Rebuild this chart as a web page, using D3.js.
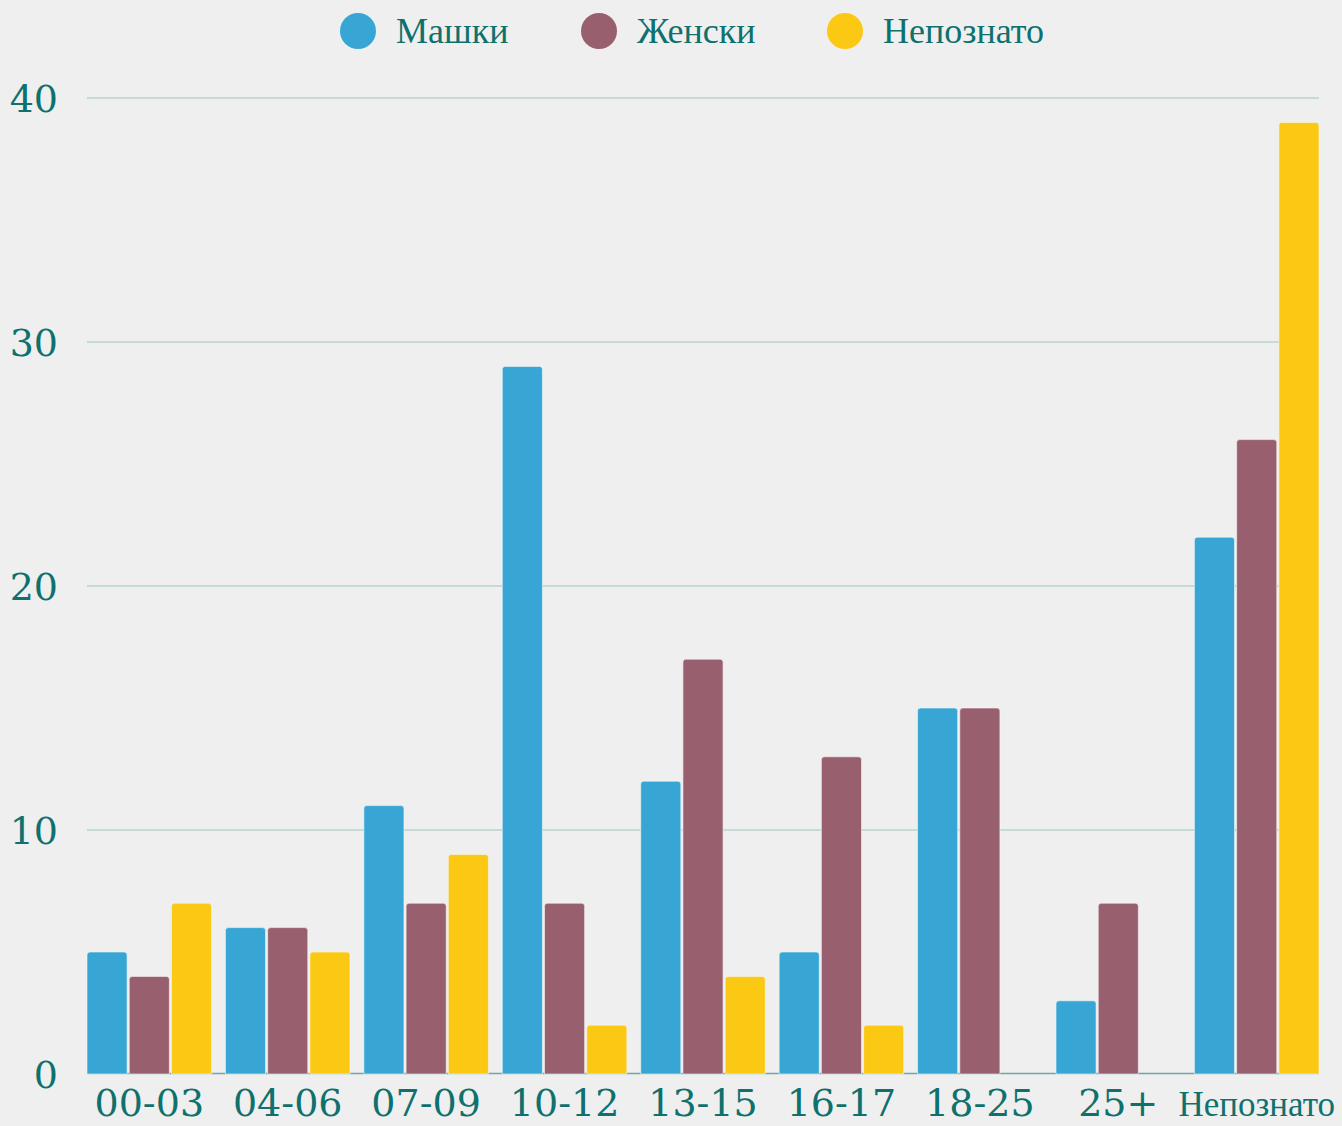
<!DOCTYPE html>
<html>
<head>
<meta charset="utf-8">
<script src="https://cdn.jsdelivr.net/npm/d3@7"></script>
<style>
  body { margin: 0; background: #efefef; }
  svg { display: block; }
  .num { font-family: "DejaVu Serif", serif; font-size: 38px; fill: #0e716e; }
  .word { font-family: "Liberation Serif", serif; font-size: 36px; fill: #0e716e; }
</style>
</head>
<body>
<svg width="1342" height="1126"></svg>
<script>
var categories = ["00-03", "04-06", "07-09", "10-12", "13-15", "16-17", "18-25", "25+", "Непознато"];
var seriesNames = ["Машки", "Женски", "Непознато"];
var male = [5, 6, 11, 29, 12, 5, 15, 3, 22];
var female = [4, 6, 7, 7, 17, 13, 15, 7, 26];
var unknown = [7, 5, 9, 2, 4, 2, 0, 0, 39];
var yTicks = [0, 10, 20, 30, 40];
var colors = ["#37a6d5", "#985f6e", "#fbc914"];

var series = [male, female, unknown];
var data = categories.map((c, i) => ({cat: c, vals: series.map(s => s[i])}));

var svg = d3.select("svg");
var pArea = [87, 98, 1319, 1074];

var x0 = d3.scaleBand()
  .domain(categories)
  .range([pArea[0], pArea[2]])
  .paddingInner(0.1)
  .paddingOuter(0);

var x1 = d3.scaleBand()
  .domain(d3.range(3))
  .range([0, x0.bandwidth()])
  .paddingInner(0.05);

var y = d3.scaleLinear()
  .domain([0, 40])
  .range([pArea[3], pArea[1]]);

// grid
svg.append("g")
  .selectAll("line")
  .data(yTicks.filter(d => d > 0))
  .enter().append("line")
  .attr("x1", pArea[0])
  .attr("x2", pArea[2])
  .attr("y1", d => y(d))
  .attr("y2", d => y(d))
  .attr("stroke", "#b9d3d1")
  .attr("stroke-width", 1.5);

// y labels
svg.append("g")
  .selectAll("text")
  .data(yTicks)
  .enter().append("text")
  .attr("class", "num")
  .attr("x", 58)
  .attr("y", d => y(d) + 14)
  .attr("text-anchor", "end")
  .text(d => d);

// baseline
svg.append("line")
  .attr("x1", pArea[0])
  .attr("x2", pArea[2])
  .attr("y1", y(0) - 0.5)
  .attr("y2", y(0) - 0.5)
  .attr("stroke", "#6aa9a8")
  .attr("stroke-width", 1.5);

function barPath(x, yTop, w, h, r) {
  if (h <= 0) return "";
  r = Math.min(r, h, w / 2);
  var b = yTop + h;
  return `M${x},${b}V${yTop + r}Q${x},${yTop} ${x + r},${yTop}H${x + w - r}Q${x + w},${yTop} ${x + w},${yTop + r}V${b}Z`;
}

// bars
var groups = svg.append("g")
  .selectAll("g")
  .data(data)
  .enter().append("g")
  .attr("transform", d => `translate(${x0(d.cat)},0)`);

groups.selectAll("path")
  .data(d => d.vals.map((v, i) => ({v: v, i: i})))
  .enter().append("path")
  .attr("d", d => barPath(x1(d.i), y(d.v), x1.bandwidth(), y(0) - y(d.v), 3))
  .attr("fill", d => colors[d.i])
  .attr("stroke", "#f6f6f6")
  .attr("stroke-width", 0.6);

// x labels
svg.append("g")
  .selectAll("text")
  .data(categories)
  .enter().append("text")
  .attr("class", d => /\d/.test(d) ? "num" : "word")
  .attr("x", d => x0(d) + x0.bandwidth() / 2)
  .attr("y", 1116)
  .attr("text-anchor", "middle")
  .style("font-size", d => /\d/.test(d) ? null : "35px")
  .text(d => d);

// legend
var legendX = [358, 599, 845];
var legend = svg.append("g")
  .selectAll("g")
  .data(seriesNames)
  .enter().append("g")
  .attr("transform", (d, i) => `translate(${legendX[i]},31)`);

legend.append("circle")
  .attr("r", 18)
  .attr("fill", (d, i) => colors[i]);

legend.append("text")
  .attr("class", "word")
  .attr("x", 38)
  .attr("y", 12)
  .text(d => d);
</script>
</body>
</html>
